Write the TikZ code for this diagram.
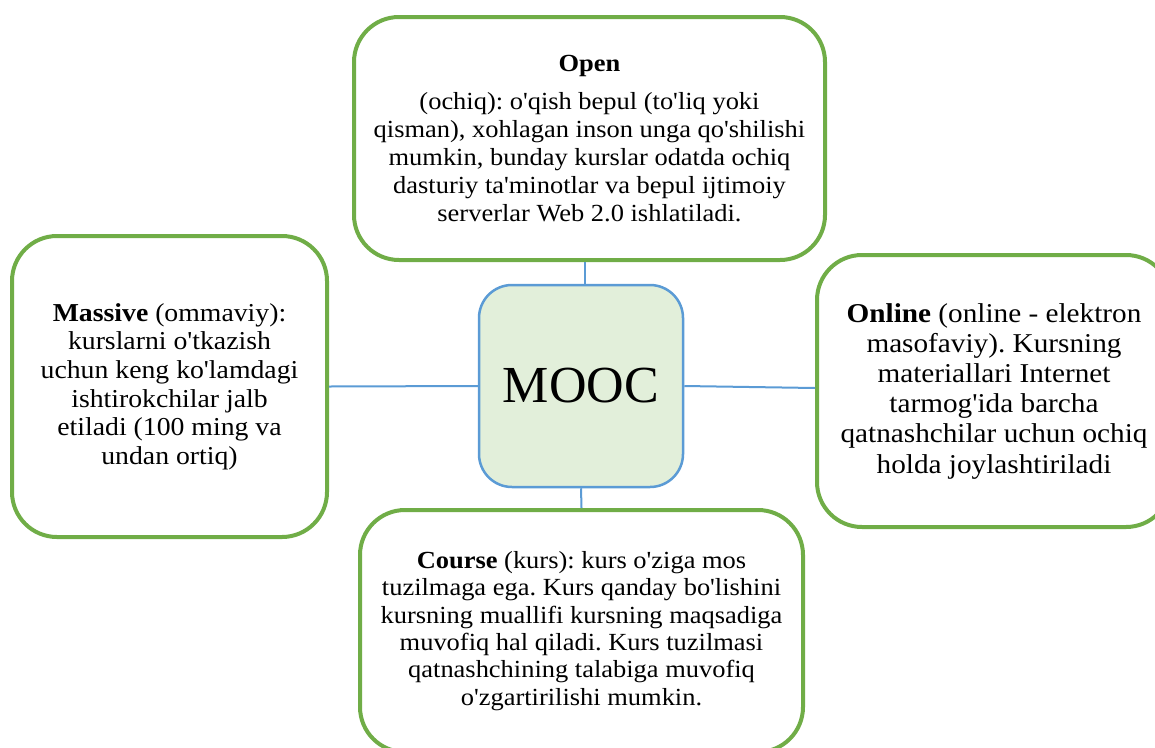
\documentclass[tikz,border=0pt]{standalone}
\usepackage{fontspec}
\setmainfont{Liberation Serif}[Ligatures=TeXOff]
\newfontfamily\boxfont{Liberation Serif}[Ligatures=TeXOff,FakeStretch=1.075]
\frenchspacing
\definecolor{boxgreen}{HTML}{70AD47}
\definecolor{linkblue}{HTML}{5B9BD5}
\definecolor{centrefill}{HTML}{E2EFDA}
\tikzset{
  infobox/.style={draw=boxgreen, line width=4pt, rounded corners=45pt, fill=white,
    inner sep=0pt, align=center},
  centrebox/.style={draw=linkblue, line width=2.5pt, rounded corners=33pt, fill=centrefill,
    inner sep=0pt, align=center, font=\fontsize{52}{60}\selectfont},
  link/.style={draw=linkblue, line width=2pt}
}
\begin{document}
\begin{tikzpicture}[x=1pt,y=-1pt]
\useasboundingbox (0,0) rectangle (1155,747);
\clip (0,0) rectangle (1155,747);
\node[infobox, minimum width=471pt, minimum height=243pt,
      font=\boxfont\fontsize{24.6}{28}\selectfont] (open) at (589.5,138.5)
  {\textbf{Open}\\[10pt]
   (ochiq): o'qish bepul (to'liq yoki\\
   qisman), xohlagan inson unga qo'shilishi\\
   mumkin, bunday kurslar odatda ochiq\\
   dasturiy ta'minotlar va bepul ijtimoiy\\
   serverlar Web 2.0 ishlatiladi.};
\node[infobox, minimum width=315pt, minimum height=301pt,
      font=\boxfont\fontsize{25.8}{28.6}\selectfont] (massive) at (169.5,386.5)
  {\textbf{Massive} (ommaviy):\\
   kurslarni o'tkazish\\
   uchun keng ko'lamdagi\\
   ishtirokchilar jalb\\
   etiladi (100 ming va\\
   undan ortiq)};
\node[infobox, minimum width=354pt, minimum height=272pt,
      font=\boxfont\fontsize{27.2}{30.2}\selectfont] (online) at (994,391)
  {\textbf{Online} (online - elektron\\
   masofaviy). Kursning\\
   materiallari Internet\\
   tarmog'ida barcha\\
   qatnashchilar uchun ochiq\\
   holda joylashtiriladi};
\node[infobox, minimum width=443pt, minimum height=242pt,
      font=\boxfont\fontsize{24.6}{27.4}\selectfont] (course) at (581.5,631)
  {\textbf{Course} (kurs): kurs o'ziga mos\\
   tuzilmaga ega. Kurs qanday bo'lishini\\
   kursning muallifi kursning maqsadiga\\
   muvofiq hal qiladi. Kurs tuzilmasi\\
   qatnashchining talabiga muvofiq\\
   o'zgartirilishi mumkin.};
\node[centrebox, minimum width=204pt, minimum height=202pt] (mooc) at (581,386) {MOOC};
\draw[link] ([xshift=4pt]mooc.north) -- ([xshift=4pt]mooc.north |- open.south);
\draw[link] (massive.east) -- (mooc.west);
\draw[link] (mooc.east) -- ([yshift=-2pt]mooc.east -| online.west);
\draw[link] (mooc.south) -- (course.north);
\end{tikzpicture}
\end{document}
